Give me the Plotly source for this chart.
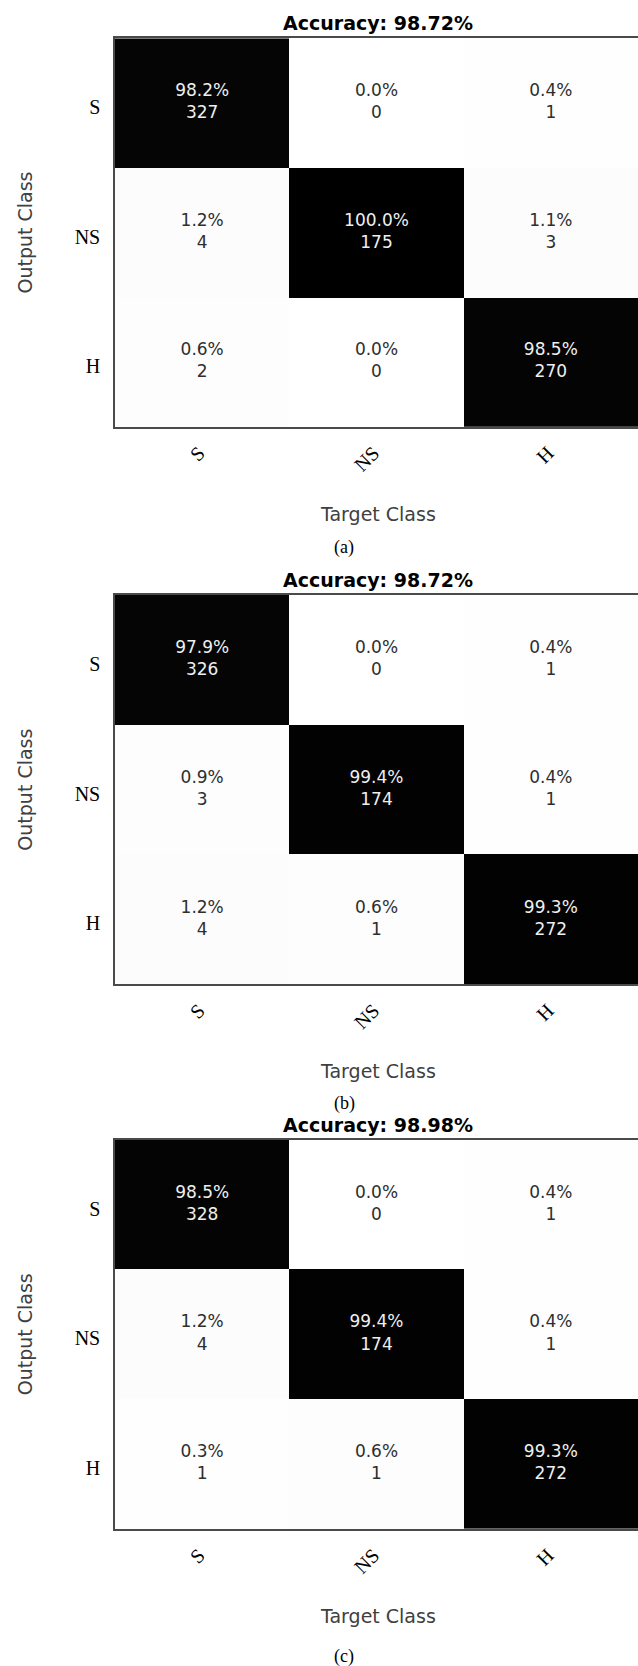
import plotly.graph_objects as go

# Class labels (rows = output class, columns = target class)
classes = ["S", "NS", "H"]

# Panel (a)
counts_a = [[327, 0, 1], [4, 175, 3], [2, 0, 270]]
pct_a = [[98.2, 0.0, 0.4], [1.2, 100.0, 1.1], [0.6, 0.0, 98.5]]

# Panel (b)
counts_b = [[326, 0, 1], [3, 174, 1], [4, 1, 272]]
pct_b = [[97.9, 0.0, 0.4], [0.9, 99.4, 0.4], [1.2, 0.6, 99.3]]

# Panel (c)
counts_c = [[328, 0, 1], [4, 174, 1], [1, 1, 272]]
pct_c = [[98.5, 0.0, 0.4], [1.2, 99.4, 0.4], [0.3, 0.6, 99.3]]

accuracies = [98.72, 98.72, 98.98]
panel_tags = ["(a)", "(b)", "(c)"]

W, H = 638, 1666
SANS = "DejaVu Sans"
SERIF = "Liberation Serif, Times New Roman, serif"

# Pixel layout of each panel's plot area: (top, bottom); x span shared
plot_left, plot_right = 115.0, 638.0
panel_boxes = [(38.3, 426.8), (595.0, 984.3), (1139.6, 1529.0)]
tag_y = [547.0, 1103.0, 1656.0]


def py(px):
    return 1.0 - px / H


def pxx(px):
    return px / W


fig = go.Figure()
annotations = []
panels = [(counts_a, pct_a), (counts_b, pct_b), (counts_c, pct_c)]

for i, (counts, pct) in enumerate(panels):
    k = "" if i == 0 else str(i + 1)
    xa, ya = "x" + k, "y" + k

    fig.add_trace(go.Heatmap(
        z=pct, x=classes, y=classes,
        zmin=0, zmax=100,
        colorscale=[[0, "#ffffff"], [1, "#000000"]],
        showscale=False, hoverinfo="skip",
        xaxis=xa, yaxis=ya,
    ))

    tx, ty, txt, col = [], [], [], []
    for r, rname in enumerate(classes):
        for c, cname in enumerate(classes):
            tx.append(cname)
            ty.append(rname)
            txt.append(f"{pct[r][c]:.1f}%<br>{counts[r][c]}")
            col.append("#efefef" if pct[r][c] > 50 else "#2e2e2e")
    fig.add_trace(go.Scatter(
        x=tx, y=ty, mode="text", text=txt,
        textfont=dict(family=SANS, size=17, color=col),
        hoverinfo="skip", showlegend=False,
        xaxis=xa, yaxis=ya,
    ))

    top, bot = panel_boxes[i]
    fig.layout["xaxis" + k] = dict(
        domain=[pxx(plot_left), pxx(plot_right)], anchor=ya,
        type="category", categoryorder="array", categoryarray=classes,
        range=[-0.5, 2.5], showgrid=False, zeroline=False,
        showline=True, mirror=True, linecolor="#4a4a4a", linewidth=1.5,
        ticks="", tickangle=-45, ticklabelstandoff=5, ticklabelshift=-3,
        tickfont=dict(family=SERIF, size=20, color="#000000"),
    )
    fig.layout["yaxis" + k] = dict(
        domain=[py(bot), py(top)], anchor=xa,
        type="category", categoryorder="array", categoryarray=classes,
        range=[2.5, -0.5], showgrid=False, zeroline=False,
        showline=True, mirror=False, linecolor="#4a4a4a", linewidth=1.5,
        ticks="", ticklabelstandoff=9, ticklabelshift=-4,
        tickfont=dict(family=SERIF, size=20, color="#000000"),
    )

    mid_x = (plot_left + plot_right) / 2
    annotations += [
        dict(text=f"<b>Accuracy: {accuracies[i]:.2f}%</b>",
             x=pxx(mid_x + 1), y=py(top - 15), xref="paper", yref="paper",
             xanchor="center", yanchor="middle", showarrow=False,
             font=dict(family=SANS, size=19, color="#000000")),
        dict(text="Target Class",
             x=pxx(mid_x + 1.5), y=py(bot + 87), xref="paper", yref="paper",
             xanchor="center", yanchor="middle", showarrow=False,
             font=dict(family=SANS, size=19, color="#404040")),
        dict(text="Output Class", textangle=-90,
             x=pxx(25), y=py((top + bot) / 2), xref="paper", yref="paper",
             xanchor="center", yanchor="middle", showarrow=False,
             font=dict(family=SANS, size=19, color="#404040")),
        dict(text=panel_tags[i],
             x=pxx(344), y=py(tag_y[i]), xref="paper", yref="paper",
             xanchor="center", yanchor="middle", showarrow=False,
             font=dict(family=SERIF, size=18, color="#000000")),
    ]

fig.update_layout(
    width=W, height=H,
    margin=dict(l=0, r=0, t=0, b=0),
    paper_bgcolor="#ffffff", plot_bgcolor="#ffffff",
    showlegend=False,
    annotations=annotations,
)

fig.write_html("out.html")
